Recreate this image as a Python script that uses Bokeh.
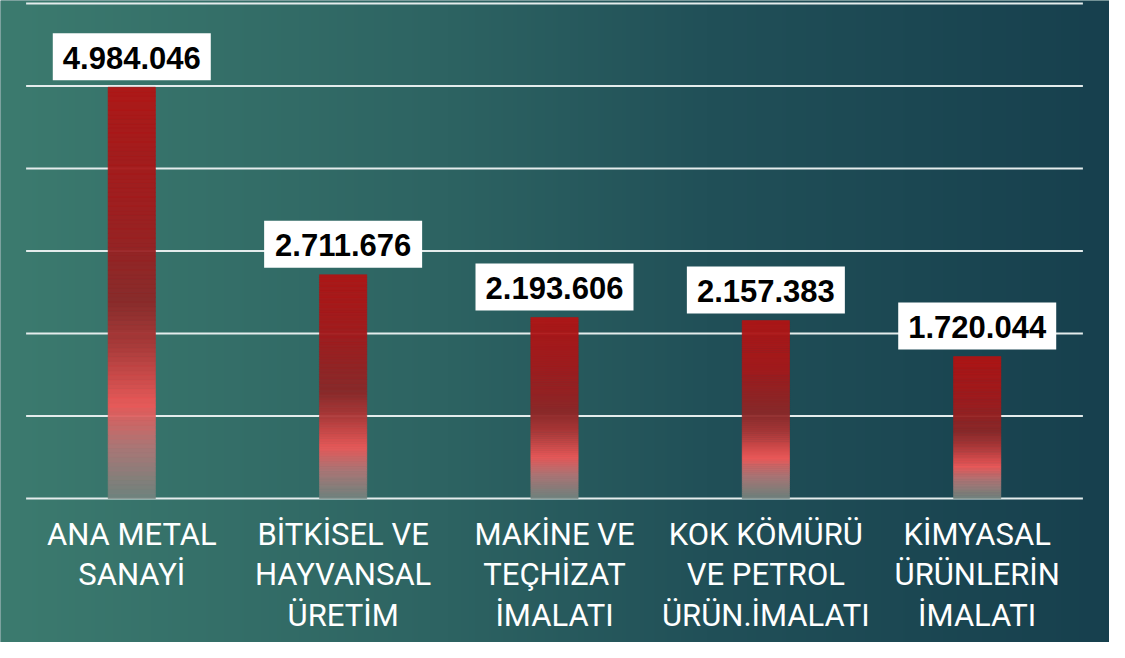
import numpy as np
from bokeh.plotting import figure
from bokeh.models import Range1d
from bokeh.core.properties import value
from bokeh.embed import file_html
from bokeh.resources import INLINE

# ---------------- data ----------------
categories = [
    "ANA METAL\nSANAYİ",
    "BİTKİSEL VE\nHAYVANSAL\nÜRETİM",
    "MAKİNE VE\nTEÇHİZAT\nİMALATI",
    "KOK KÖMÜRÜ\nVE PETROL\nÜRÜN.İMALATI",
    "KİMYASAL\nÜRÜNLERİN\nİMALATI",
]
values = [4984046, 2711676, 2193606, 2157383, 1720044]
value_labels = ["4.984.046", "2.711.676", "2.193.606", "2.157.383", "1.720.044"]
grid_ticks = [0, 1000000, 2000000, 3000000, 4000000, 5000000, 6000000]

# ---------------- layout (pixels) ----------------
W, H = 1109, 642
band_left, band_right = 25.6, 1082.4      # category band in figure px
base_px, top_px = 498.0, 2.9              # y px of 0 and of 6M (from top)
unit = (band_right - band_left) / len(categories)
x_start = -0.5 - band_left / unit
x_end = len(categories) - 0.5 + (W - band_right) / unit
ppv = (base_px - top_px) / grid_ticks[-1]  # pixels per value
y_start = -(H - base_px) / ppv
y_end = grid_ticks[-1] + top_px / ppv

p = figure(width=W, height=H, output_backend="svg", toolbar_location=None,
           x_range=Range1d(x_start, x_end), y_range=Range1d(y_start, y_end),
           min_border=0, min_border_left=0, min_border_right=0,
           min_border_top=0, min_border_bottom=0)
p.axis.visible = False
p.grid.visible = False
p.outline_line_color = None
p.background_fill_color = "#2b6262"
p.border_fill_color = "#2b6262"

# ---------------- background gradient ----------------
def interp_stops(stops, t):
    t = np.clip(t, 0, 1)
    pos = np.array([s[0] for s in stops])
    out = []
    for c in range(3):
        out.append(np.interp(t, pos, [s[1][c] for s in stops]))
    return np.stack(out, axis=-1)

bg_stops = [(0.0, (60, 123, 111)), (0.38, (45, 99, 98)), (0.6, (33, 80, 88)), (1.0, (21, 61, 76))]
gw, gh = 560, 40
xs = np.linspace(0, 1, gw)[None, :].repeat(gh, 0)
rgb = interp_stops(bg_stops, xs * 0.94)
img = np.empty((gh, gw), dtype=np.uint32)
view = img.view(dtype=np.uint8).reshape((gh, gw, 4))
view[:, :, 0:3] = rgb.astype(np.uint8)
view[:, :, 3] = 255
p.image_rgba(image=[img], x=x_start, y=y_start, dw=x_end - x_start, dh=y_end - y_start)

# ---------------- gridlines ----------------
p.segment(x0=[-0.5] * len(grid_ticks), x1=[len(categories) - 0.5] * len(grid_ticks),
          y0=grid_ticks, y1=grid_ticks, line_color="#e4ecec", line_width=2)

# ---------------- gradient bars ----------------
bar_stops = [
    (0.00, (178, 20, 20)),
    (0.30, (162, 26, 28)),
    (0.52, (140, 40, 40)),
    (0.63, (175, 56, 56)),
    (0.77, (238, 88, 88)),
    (0.87, (178, 118, 118)),
    (1.00, (112, 132, 126)),
]
bar_w = 48 * (W / 1125) / unit
N = 90
left, right, bottom, top, colors = [], [], [], [], []
for i, v in enumerate(values):
    for k in range(N):
        f0, f1 = k / N, (k + 1) / N
        t = 1 - (f0 + f1) / 2
        c = interp_stops(bar_stops, t)
        left.append(i - bar_w / 2)
        right.append(i + bar_w / 2)
        bottom.append(v * f0)
        top.append(v * f1)
        colors.append("#%02x%02x%02x" % tuple(int(round(x)) for x in c))
p.quad(left=left, right=right, bottom=bottom, top=top, fill_color=colors,
       line_color=colors, line_width=0.6, fill_alpha=0.95, line_alpha=0.95)

# ---------------- value labels ----------------
xi = list(range(len(categories)))
box_w, box_h, box_gap = 158, 47, 7
box_y = [v + (box_gap + box_h / 2) / ppv for v in values]
p.rect(x=xi, y=box_y, width=box_w, height=box_h, width_units="screen",
       height_units="screen", fill_color="white", line_color=None)
p.text(x=xi, y=box_y, text=value_labels,
       text_align="center", text_baseline="middle", y_offset=1,
       text_font=value("Liberation Sans"), text_font_style="bold",
       text_font_size="31px", text_color="#000000")

# ---------------- category labels ----------------
p.text(x=xi, y=[0] * len(categories), text=categories,
       text_align="center", text_baseline="top", y_offset=17,
       text_font=value("Roboto"), text_font_size="31px",
       text_color="#ffffff", text_line_height=1.1)

open("out.html", "w").write(file_html(p, INLINE))
